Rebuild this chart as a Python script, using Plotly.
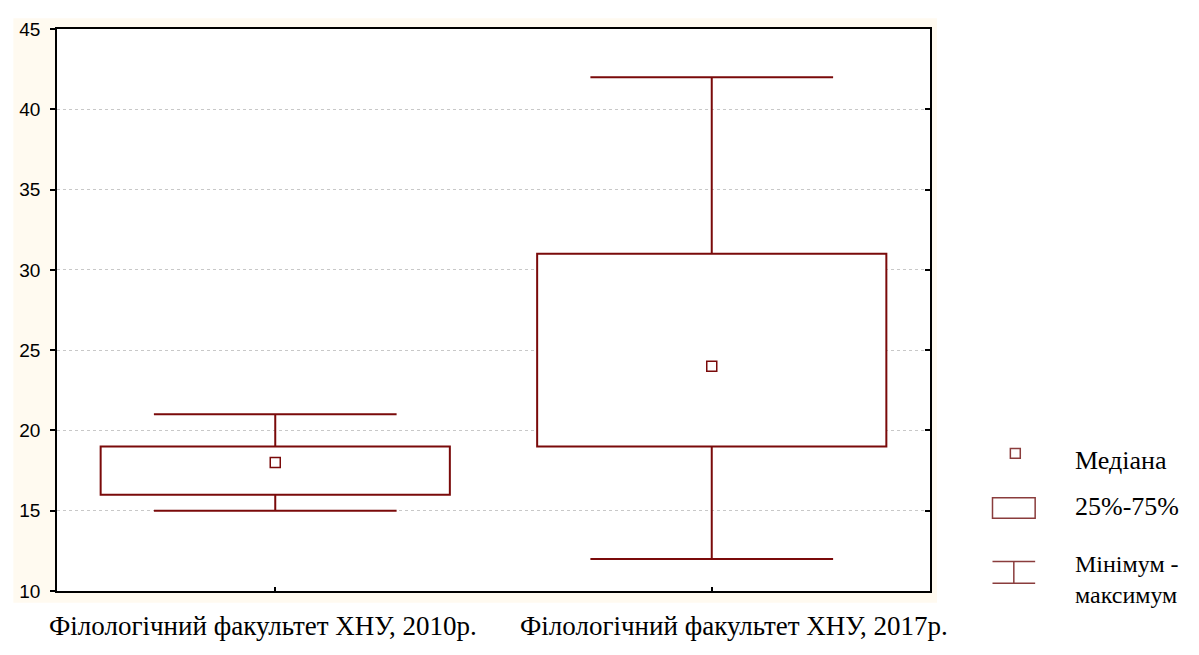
import plotly.graph_objects as go

# ---- data ----
categories = ["Філологічний факультет ХНУ, 2010р.", "Філологічний факультет ХНУ, 2017р."]
positions = [0, 1]
minimum = [15, 12]
q1 = [16, 19]
median = [18, 24]
q3 = [19, 31]
maximum = [21, 42]
y_ticks = [10, 15, 20, 25, 30, 35, 40, 45]
legend_labels = ["Медіана", "25%-75%", "Мінімум -<br>максимум"]

# ---- style ----
RED = "#7a0a0a"
LEG = "#8a3c3c"
BOX_W = 0.8
CAP_HALF = 0.278

OFF = 8  # page body margin
W, H = 1199, 655
# plot area in screen pixels
SL, SR, ST, SB = 50, 930, 19, 591
L = SL - OFF
T = ST - OFF
PW = SR - SL
PH = SB - ST
R = W - L - PW
B = H - T - PH

def px(x):
    return (x - SL) / PW

def py(y):
    return (SB - y) / PH

fig = go.Figure()

# boxes (25%-75%)
fig.add_trace(go.Bar(
    x=positions, y=[b - a for a, b in zip(q1, q3)], base=q1, width=BOX_W,
    marker=dict(color="white", line=dict(color=RED, width=2)),
    showlegend=False, hoverinfo="skip"))

# whiskers
for p, lo, a, b, hi in zip(positions, minimum, q1, q3, maximum):
    fig.add_trace(go.Scatter(x=[p, p, None, p, p], y=[hi, b, None, a, lo],
                             mode="lines", line=dict(color=RED, width=2),
                             showlegend=False, hoverinfo="skip"))
    fig.add_trace(go.Scatter(x=[p - CAP_HALF, p + CAP_HALF, None, p - CAP_HALF, p + CAP_HALF],
                             y=[hi, hi, None, lo, lo],
                             mode="lines", line=dict(color=RED, width=2),
                             showlegend=False, hoverinfo="skip"))

# medians
fig.add_trace(go.Scatter(x=positions, y=median, mode="markers",
                         marker=dict(symbol="square-open", size=10, color=RED,
                                     line=dict(width=1.5, color=RED)),
                         showlegend=False, hoverinfo="skip"))

# invisible trace on right axis for inside mirrored ticks
fig.add_trace(go.Scatter(x=[positions[0]], y=[median[0]], yaxis="y2", mode="markers",
                         marker=dict(opacity=0), showlegend=False, hoverinfo="skip"))

shapes = [
    # cream panel
    dict(type="rect", xref="paper", yref="paper", x0=px(6), x1=px(937), y0=py(603), y1=py(8),
         fillcolor="#fffaf0", line=dict(width=0), layer="below"),
    dict(type="rect", xref="paper", yref="paper", x0=0, x1=1, y0=0, y1=1,
         fillcolor="white", line=dict(width=0), layer="below"),
    # legend icons
    dict(type="rect", xref="paper", yref="paper", x0=px(1011), x1=px(1021), y0=py(456), y1=py(446),
         line=dict(color=LEG, width=1.5)),
    dict(type="rect", xref="paper", yref="paper", x0=px(993), x1=px(1036), y0=py(517), y1=py(496),
         line=dict(color=LEG, width=1.5)),
    dict(type="line", xref="paper", yref="paper", x0=px(993), x1=px(1036), y0=py(561), y1=py(561),
         line=dict(color=LEG, width=1.5)),
    dict(type="line", xref="paper", yref="paper", x0=px(993), x1=px(1036), y0=py(583), y1=py(583),
         line=dict(color=LEG, width=1.5)),
    dict(type="line", xref="paper", yref="paper", x0=px(1014.5), x1=px(1014.5), y0=py(561), y1=py(583),
         line=dict(color=LEG, width=1.5)),
]

serif = dict(family="Liberation Serif", size=26, color="black")
serif_small = dict(family="Liberation Serif", size=24, color="black")
annotations = [
    dict(text=legend_labels[0], xref="paper", yref="paper", x=px(1074), y=py(458),
         xanchor="left", yanchor="middle", showarrow=False, font=serif),
    dict(text=legend_labels[1], xref="paper", yref="paper", x=px(1074), y=py(505),
         xanchor="left", yanchor="middle", showarrow=False, font=serif),
    dict(text=legend_labels[2], xref="paper", yref="paper", x=px(1074), y=py(579),
         xanchor="left", yanchor="middle", showarrow=False, font=serif_small, align="left"),
    dict(text=categories[0], xref="paper", yref="paper", x=px(258), y=py(627),
         xanchor="center", yanchor="middle", showarrow=False,
         font=dict(family="Liberation Serif", size=27, color="black")),
    dict(text=categories[1], xref="paper", yref="paper", x=px(732), y=py(627),
         xanchor="center", yanchor="middle", showarrow=False,
         font=dict(family="Liberation Serif", size=27, color="black")),
]

fig.update_layout(
    width=W, height=H,
    margin=dict(l=L, r=R, t=T, b=B),
    paper_bgcolor="white", plot_bgcolor="rgba(0,0,0,0)",
    shapes=shapes, annotations=annotations, showlegend=False,
    font=dict(family="Liberation Sans, Arial, sans-serif", size=19, color="black"),
    yaxis2=dict(overlaying="y", side="right", range=[10, 45], tickvals=y_ticks,
                ticks="inside", ticklen=5, tickcolor="black", tickwidth=1.5,
                showticklabels=False, showgrid=False, zeroline=False, showline=False),
)
fig.update_xaxes(range=[-0.5, 1.5], tickvals=positions, showticklabels=False,
                 ticks="inside", ticklen=4, tickcolor="black", tickwidth=1.5,
                 showgrid=False, zeroline=False,
                 showline=True, linecolor="black", linewidth=1.5, mirror=True)
fig.update_yaxes(selector=dict(overlaying=None), range=[10, 45], tickvals=y_ticks, ticks="outside", ticklen=5,
                 tickcolor="black", tickwidth=1.5,
                 showgrid=True, gridcolor="#c8c8c8", griddash="dot", gridwidth=1,
                 zeroline=False, showline=True, linecolor="black", linewidth=1.5,
                 mirror=True, ticklabelstandoff=6)

fig.write_html("out.html")
